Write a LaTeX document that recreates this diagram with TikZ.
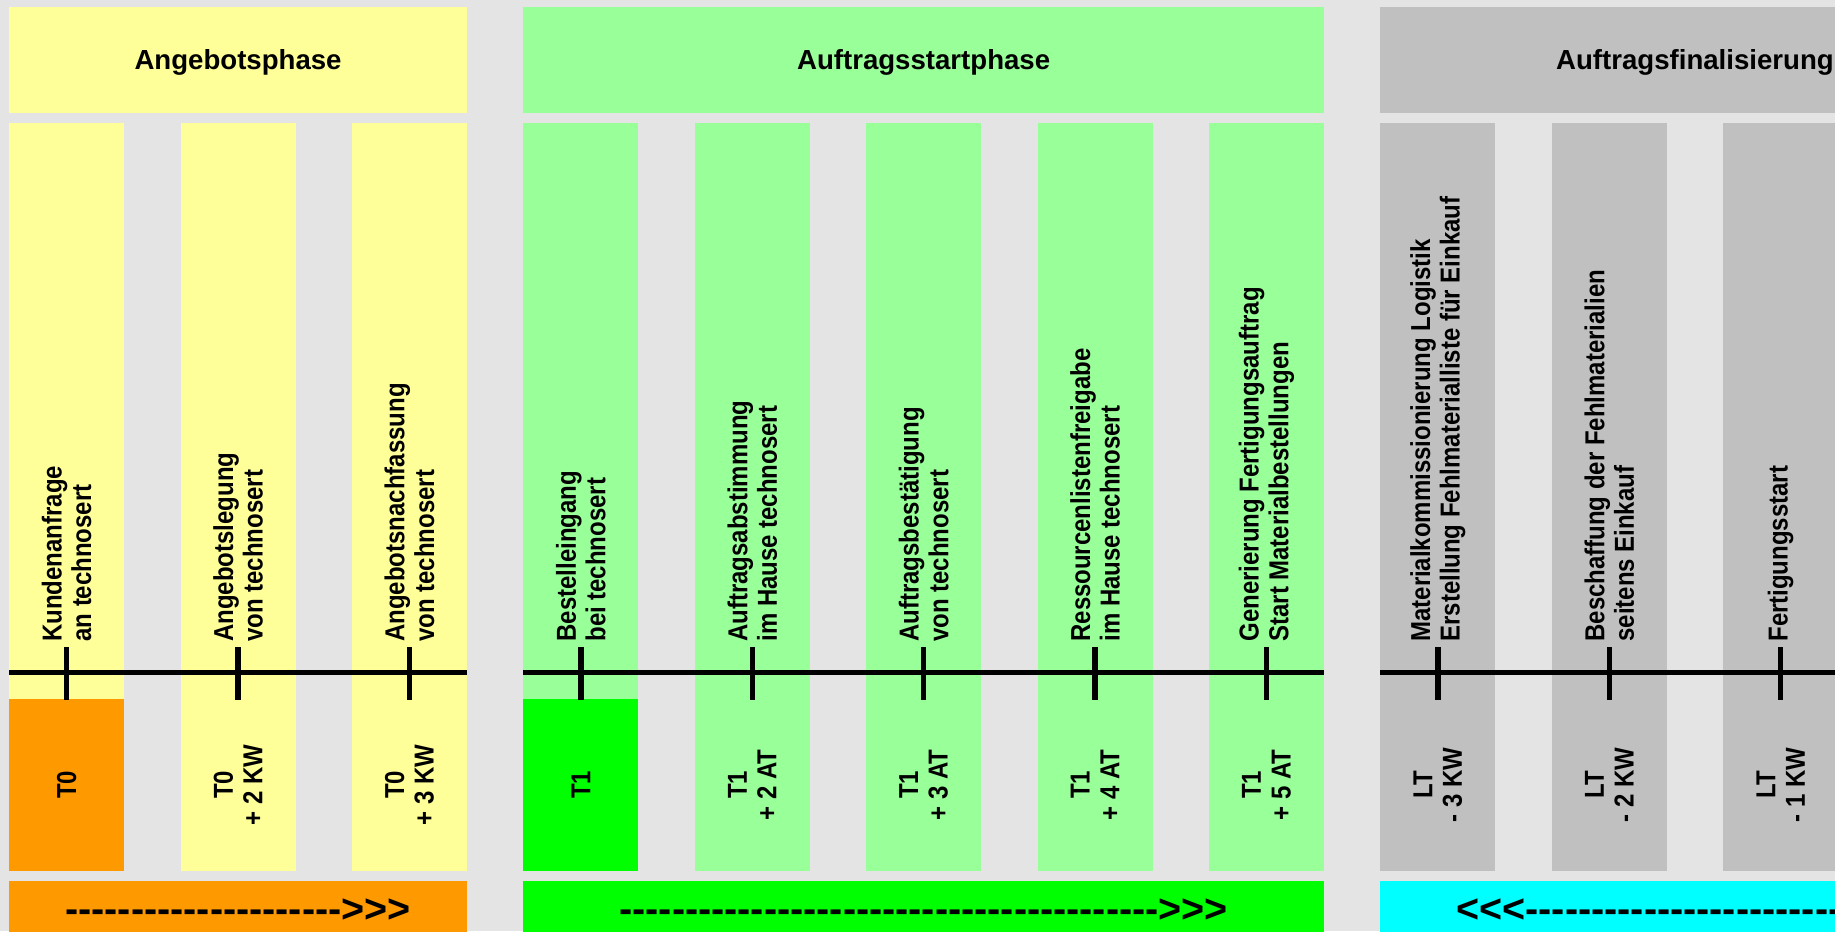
\documentclass[tikz,border=0pt]{standalone}
\usepackage{fontspec}
\setmainfont{Liberation Sans}
\newfontfamily\lblfont[FakeStretch=0.875]{Liberation Sans}
\definecolor{bg}{HTML}{E4E4E4}
\definecolor{paleyellow}{HTML}{FFFF99}
\definecolor{palegreen}{HTML}{99FF99}
\definecolor{palegray}{HTML}{C0C0C0}
\definecolor{orangeT}{HTML}{FF9900}
\definecolor{greenT}{HTML}{00FF00}
\definecolor{cyanT}{HTML}{00FFFF}
\newcommand\dashrun[1]{\foreach\k in {1,...,#1}{-\kern0pt}}
\newcommand\fwd{>\kern0pt>\kern0pt>}
\newcommand\bwd{<\kern0pt<\kern0pt<\kern0pt}
\tikzset{
  phasehead/.style={font=\bfseries\fontsize{13.8}{16}\selectfont, inner sep=0pt, anchor=base},
  steplabel/.style={font=\lblfont\bfseries\fontsize{13.7}{14.8}\selectfont, rotate=90, inner sep=0pt, align=left, anchor=west},
  timelabel/.style={font=\lblfont\bfseries\fontsize{13.7}{14.8}\selectfont, rotate=90, inner sep=0pt, align=center},
  flowtext/.style={font=\bfseries\fontsize{19.75}{22}\selectfont, inner sep=0pt, anchor=base},
  timeline/.style={line width=2.7pt},
  tickmark/.style={line width=2.75pt}
}
\begin{document}
\begin{tikzpicture}[x=0.5pt,y=-0.5pt]
\useasboundingbox (0,0) rectangle (1835,931);
\clip (0,0) rectangle (1835,931);
\fill[bg] (0,0) rectangle (1835,931);
\foreach \a/\b/\c/\t/\n in {0/2/paleyellow/Angebotsphase/1, 3/7/palegreen/Auftragsstartphase/2, 8/11/palegray/Auftragsfinalisierung/3}
{
  \fill[\c] ({9.1+171.4*\a},7.3) rectangle ({124.2+171.4*\b},112.7);
  \node[phasehead] (head\n) at ({(133.3+171.4*(\a+\b))/2},70) {\t};
}
\foreach \i/\c/\up/\low in {
  0/paleyellow/{Kundenanfrage\\an technosert}/{T0},
  1/paleyellow/{Angebotslegung\\von technosert}/{T0\\+ 2 KW},
  2/paleyellow/{Angebotsnachfassung\\von technosert}/{T0\\+ 3 KW},
  3/palegreen/{Bestelleingang\\bei technosert}/{T1},
  4/palegreen/{Auftragsabstimmung\\im Hause technosert}/{T1\\+ 2 AT},
  5/palegreen/{Auftragsbestätigung\\von technosert}/{T1\\+ 3 AT},
  6/palegreen/{Ressourcenlistenfreigabe\\im Hause technosert}/{T1\\+ 4 AT},
  7/palegreen/{Generierung Fertigungsauftrag\\Start Materialbestellungen}/{T1\\+ 5 AT},
  8/palegray/{Materialkommissionierung Logistik\\Erstellung Fehlmaterialliste für Einkauf}/{LT\\- 3 KW},
  9/palegray/{Beschaffung der Fehlmaterialien\\seitens Einkauf}/{LT\\- 2 KW},
  10/palegray/{Fertigungsstart}/{LT\\- 1 KW}}
{
  \fill[\c] ({9.1+171.4*\i},123.3) rectangle +(115.1,747.4);
  \ifnum\i=0 \fill[orangeT] (9.1,699) rectangle +(115.1,171.7); \fi
  \ifnum\i=3 \fill[greenT] ({9.1+171.4*3},699) rectangle +(115.1,171.7); \fi
  \node[steplabel] (step\i) at ({66.65+171.4*\i},642) {\up};
  \node[timelabel] (time\i) at ({66.65+171.4*\i},784.8) {\low};
}
\foreach \a/\b/\n in {0/2/1, 3/7/2, 8/11/3}
{
  \coordinate (lineL\n) at ({9.1+171.4*\a},672.6);
  \coordinate (lineR\n) at ({124.2+171.4*\b},672.6);
  \draw[timeline] (lineL\n) -- (lineR\n);
}
\foreach \i in {0,...,10}
  \draw[tickmark] ({66.65+171.4*\i},647.2) -- ++(0,52.5);
\foreach \a/\b/\c/\t/\n in {0/2/orangeT/{\dashrun{21}\fwd}/1, 3/7/greenT/{\dashrun{41}\fwd}/2, 8/11/cyanT/{\bwd\dashrun{31}}/3}
{
  \fill[\c] ({9.1+171.4*\a},881) rectangle ({124.2+171.4*\b},960);
  \node[flowtext] (flow\n) at ({(133.3+171.4*(\a+\b))/2},922) {\t};
}
\end{tikzpicture}
\end{document}
